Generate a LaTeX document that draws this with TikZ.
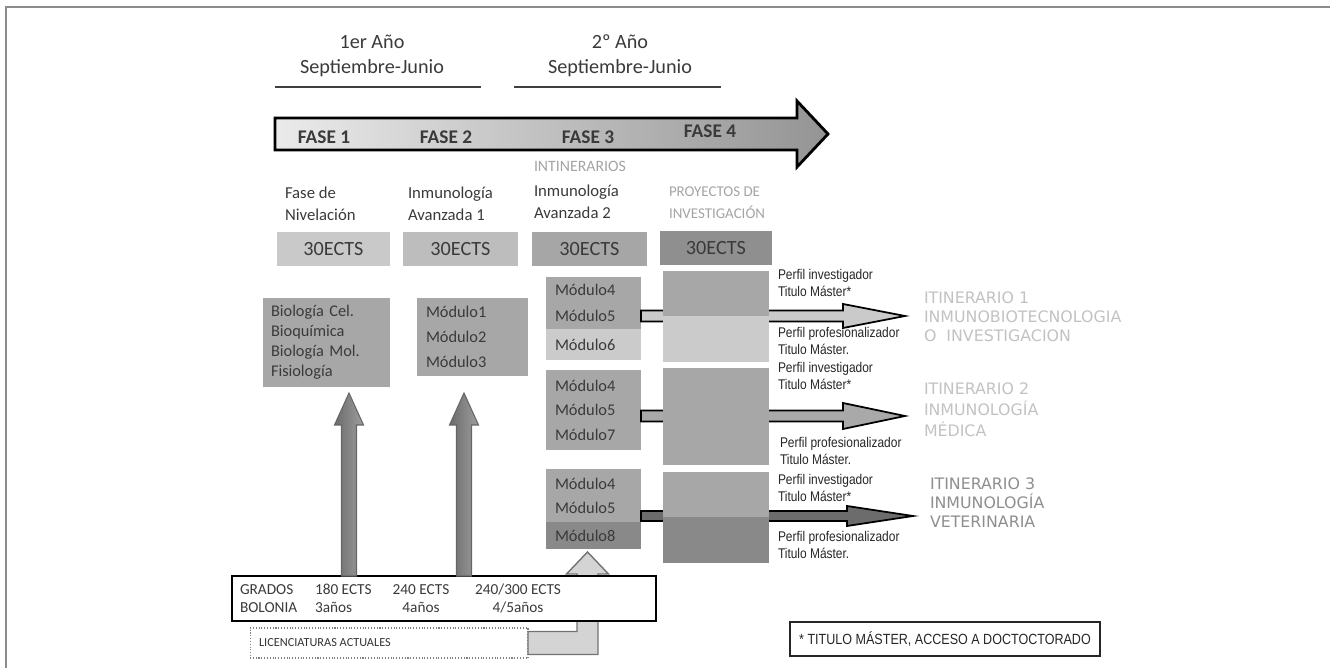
\documentclass[tikz,border=0pt]{standalone}
\usepackage{fontspec}
\setmainfont{Carlito}
\newfontfamily\perfilfont[FakeStretch=0.85]{Liberation Sans}
\newfontfamily\itinfont{DejaVu Sans}
\usetikzlibrary{calc}

\definecolor{txt}{HTML}{3A3A3A}
\definecolor{ectsA}{HTML}{C9C9C9}
\definecolor{ectsB}{HTML}{BDBDBD}
\definecolor{ectsC}{HTML}{A6A6A6}
\definecolor{ectsD}{HTML}{8F8F8F}
\definecolor{modgray}{HTML}{A7A7A7}
\definecolor{modlight}{HTML}{CBCBCB}
\definecolor{moddark}{HTML}{898989}
\definecolor{arrowA}{HTML}{CACACA}
\definecolor{arrowB}{HTML}{A9A9A9}
\definecolor{arrowC}{HTML}{6C6C6C}
\definecolor{labelgray}{HTML}{A4A4A4}
\definecolor{itinlight}{HTML}{C2C2C2}
\definecolor{itindark}{HTML}{8E8E8E}

% fat arrows: style, start, tip, shaft half width, head half width, head length
\newcommand{\fatarrowh}[6]{%
  \path[#1] ($(#2)+(0,#4)$) -- ($(#3)+(-#6,#4)$) -- ($(#3)+(-#6,#5)$) -- (#3)
    -- ($(#3)+(-#6,-#5)$) -- ($(#3)+(-#6,-#4)$) -- ($(#2)+(0,-#4)$) -- cycle;}
\newcommand{\fatarrowv}[6]{%
  \path[#1] ($(#2)+(#4,0)$) -- ($(#3)+(#4,#6)$) -- ($(#3)+(#5,#6)$) -- (#3)
    -- ($(#3)+(-#5,#6)$) -- ($(#3)+(-#4,#6)$) -- ($(#2)+(-#4,0)$) -- cycle;}

\begin{document}
\begin{tikzpicture}[x=0.02cm, y=-0.02cm]
        \tikzstyle{box} = [rectangle, inner sep=0pt, outer sep=0pt, text=txt]
        \tikzstyle{ects} = [box, minimum height=0.68cm, font=\fontsize{11.5}{12}\selectfont]
        \tikzstyle{modbox} = [box, minimum width=1.9cm, text width=1.54cm, align=left, font=\fontsize{9.3}{14.6}\selectfont]
        \tikzstyle{proj} = [box, minimum width=2.12cm]
        \tikzstyle{title} = [box, anchor=west, align=left, font=\fontsize{9.5}{12.5}\selectfont]
        \tikzstyle{perfil} = [box, anchor=west, align=left, text=black!85, font=\perfilfont\fontsize{8}{9.2}\selectfont]
        \tikzstyle{itin} = [box, anchor=west, align=left, font=\itinfont\fontsize{9}{10.8}\selectfont]
        \tikzstyle{grado} = [box, font=\fontsize{8.7}{10.2}\selectfont]
        \tikzstyle{fatline} = [draw=black, line width=1pt]
        \tikzstyle{uparrow} = [draw=black!60, line width=0.6pt, left color=black!58, right color=black!38]
        \tikzstyle{licarrow} = [draw=black!55, line width=0.8pt, fill=black!17]

        \useasboundingbox (0,0) rectangle (1330,668);
        \draw[black!45, line width=1.2pt] (6,668) -- (6,7) -- (1330,7);

        % years
        \node[box, align=center, font=\fontsize{11.5}{14.2}\selectfont] (year1) at (372,56) {1er Año\\Septiembre-Junio};
        \node[box, align=center, font=\fontsize{11.5}{14.2}\selectfont] (year2) at (620,56) {2º Año\\Septiembre-Junio};
        \draw[black!75, line width=1.2pt] (275,87) -- (481,87);
        \draw[black!75, line width=1.2pt] (514,87) -- (721,87);

        % phases
        \coordinate (phasestart) at (275,134);
        \coordinate (phasetip) at (828,134);
        \fatarrowh{draw=black, line width=1.6pt, left color=black!8, right color=black!42}{phasestart}{phasetip}{16}{33}{31}
        \node[box, font=\bfseries\fontsize{11}{12}\selectfont] (fase1) at (324,137) {FASE 1};
        \node[box, font=\bfseries\fontsize{11}{12}\selectfont] (fase2) at (446,137) {FASE 2};
        \node[box, font=\bfseries\fontsize{11}{12}\selectfont] (fase3) at (588,137) {FASE 3};
        \node[box, font=\bfseries\fontsize{11}{12}\selectfont] (fase4) at (710,131) {FASE 4};

        \node[title] (nivel) at (285,204) {Fase de\\Nivelación};
        \node[title] (avz1) at (408,204) {Inmunología\\Avanzada 1};
        \node[title, text=labelgray, font=\fontsize{9}{10}\selectfont] (itinhead) at (534,166) {INTINERARIOS};
        \node[title] (avz2) at (534,202) {Inmunología\\Avanzada 2};
        \node[title, text=labelgray, font=\fontsize{8.5}{12.5}\selectfont] (proyhead) at (669,203) {PROYECTOS DE\\INVESTIGACIÓN};

        \node[ects, fill=ectsA, minimum width=2.26cm] (ects1) at (333.5,249) {30ECTS};
        \node[ects, fill=ectsB, minimum width=2.3cm] (ects2) at (460.5,249) {30ECTS};
        \node[ects, fill=ectsC, minimum width=2.3cm] (ects3) at (589.5,249) {30ECTS};
        \node[ects, fill=ectsD, minimum width=2.24cm] (ects4) at (716,248) {30ECTS};

        \node[box, fill=modgray, minimum width=2.54cm, minimum height=1.78cm, text width=2.22cm, align=left, font=\fontsize{9.3}{11.3}\selectfont] (bio) at (326.5,342.5) {Biología Cel.\\Bioquímica\\Biología Mol.\\Fisiología};
        \node[box, fill=modgray, minimum width=2.22cm, minimum height=1.56cm, text width=1.86cm, align=left, font=\fontsize{9.3}{14.2}\selectfont] (mod13) at (472.5,337) {Módulo1\\Módulo2\\Módulo3};

        % itinerarios
        \node[modbox, fill=modgray, minimum height=1.04cm] (itA) at (593.5,303) {Módulo4\\Módulo5};
        \node[modbox, fill=modlight, minimum height=0.62cm] (itAb) at (593.5,344.5) {Módulo6};
        \node[modbox, fill=modgray, minimum height=1.6cm, font=\fontsize{9.3}{13.9}\selectfont] (itB) at (593.5,410) {Módulo4\\Módulo5\\Módulo7};
        \node[modbox, fill=modgray, minimum height=1.06cm, font=\fontsize{9.3}{13.6}\selectfont] (itC) at (593.5,495.5) {Módulo4\\Módulo5};
        \node[modbox, fill=moddark, minimum height=0.54cm] (itCb) at (593.5,535.5) {Módulo8};

        \node[itin, text=itinlight] (itin1) at (924,317) {ITINERARIO 1\\INMUNOBIOTECNOLOGIA\\O\ \ INVESTIGACION};
        \node[itin, text=itinlight, font=\itinfont\fontsize{9}{12}\selectfont] (itin2) at (924,410) {ITINERARIO 2\\INMUNOLOGÍA\\MÉDICA};
        \node[itin, text=itindark] (itin3) at (930,503) {ITINERARIO 3\\INMUNOLOGÍA\\VETERINARIA};

        \coordinate (from1) at ([yshift=0.26cm]itA.south east);
        \coordinate (from2) at ([yshift=-0.12cm]itB.east);
        \coordinate (from3) at ([yshift=0.12cm]itC.south east);
        \coordinate (to1) at ($(from1 -| itin1.west)+(-19,0)$);
        \coordinate (to2) at ($(from2 -| itin2.west)+(-19,0)$);
        \coordinate (to3) at ($(from3 -| itin3.west)+(-17,0)$);
        \fatarrowh{fatline, fill=arrowA}{from1}{to1}{5.5}{12}{62}
        \fatarrowh{fatline, fill=arrowB}{from2}{to2}{5.5}{13}{62}
        \fatarrowh{fatline, fill=arrowC}{from3}{to3}{5}{10}{66}

        \node[proj, fill=modgray, minimum height=0.9cm] (projA) at (716,293.5) {};
        \node[proj, fill=modlight, minimum height=0.92cm] (projAb) at (716,339) {};
        \node[proj, fill=modgray, minimum height=1.94cm] (projB) at (716,416.5) {};
        \node[proj, fill=modgray, minimum height=0.9cm] (projC) at (716,494.5) {};
        \node[proj, fill=moddark, minimum height=0.92cm] (projCb) at (716,540) {};

        \node[perfil] (invA) at (778,283) {Perfil investigador\\Titulo Máster*};
        \node[perfil] (profA) at (778,341) {Perfil profesionalizador\\Titulo Máster.};
        \node[perfil] (invB) at (778,376) {Perfil investigador\\Titulo Máster*};
        \node[perfil] (profB) at (780,451) {Perfil profesionalizador\\Titulo Máster.};
        \node[perfil] (invC) at (778,488) {Perfil investigador\\Titulo Máster*};
        \node[perfil] (profC) at (778,545) {Perfil profesionalizador\\Titulo Máster.};

        % acceso
        \node[box, draw=black!50, densely dotted, line width=0.6pt, minimum width=5.56cm, minimum height=0.6cm] (lic) at (389,643) {};
        \node[box, anchor=west, text=black!80, font=\fontsize{7}{8}\selectfont] (lictxt) at ($(lic.west)+(9,0)$) {LICENCIATURAS ACTUALES};
        \coordinate (licbend) at ($(lic.east -| itCb.south)+(-6,0)$);
        \coordinate (licin) at ($(licbend |- itCb.south)+(0,3)$);
        \path[licarrow] ($(lic.east)+(0,-11.5)$) -- ($(licbend)+(-10.5,-11.5)$) -- ($(licin)+(-10.5,22)$)
            -- ($(licin)+(-21,22)$) -- (licin) -- ($(licin)+(21,22)$) -- ($(licin)+(10.5,22)$)
            -- ($(licbend)+(10.5,11.5)$) -- ($(lic.east)+(0,11.5)$) -- cycle;

        \node[box, draw=black, line width=0.9pt, fill=white, minimum width=8.48cm, minimum height=0.9cm] (grados) at (444,598.5) {};
        \node[grado, anchor=west, align=left] (gradoslbl) at ($(grados.west)+(8,0)$) {GRADOS\\BOLONIA};
        \node[grado, anchor=west, align=left] (grado180) at ($(grados.west)+(83,0)$) {180 ECTS\\3años};
        \node[grado, align=center] (grado240) at ($(grados.west)+(189,0)$) {240 ECTS\\4años};
        \node[grado, align=center] (grado300) at ($(grados.west)+(286,0)$) {240/300 ECTS\\4/5años};

        \coordinate (bioin) at ($(bio.south)+(22.5,6)$);
        \coordinate (modin) at ($(mod13.south)+(-8.5,17)$);
        \fatarrowv{uparrow}{grados.north -| bioin}{bioin}{7.5}{14.5}{32}
        \fatarrowv{uparrow}{grados.north -| modin}{modin}{7.5}{14.5}{32}

        \node[box, draw=black!85, line width=0.9pt, minimum width=6.2cm, minimum height=0.68cm, text=black!85, font=\perfilfont\fontsize{8.4}{9}\selectfont] (nota) at (945,639) {* TITULO MÁSTER, ACCESO A DOCTOCTORADO};
    \end{tikzpicture}
\end{document}
